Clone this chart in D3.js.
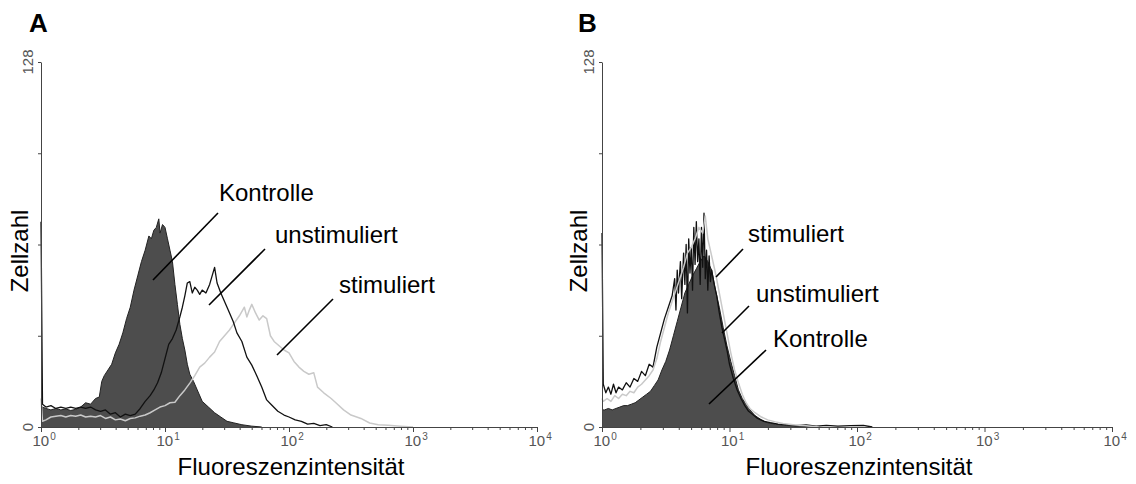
<!DOCTYPE html>
<html>
<head>
<meta charset="utf-8">
<script src="https://cdn.jsdelivr.net/npm/d3@7"></script>
<style>
  html, body { margin: 0; padding: 0; background: #fff; }
  svg { display: block; font-family: "Liberation Sans", Arial, sans-serif; }
</style>
</head>
<body>
<svg id="chart" width="1136" height="484"></svg>
<script>
// Flow cytometry histograms: x = decade exponent of fluorescence intensity, y = cell count

const decades = [0, 1, 2, 3, 4];
const countTicks = [0, 32, 64, 96, 128];
const countLabels = [0, 128];

// Panel A
const aKontrolle = [
  [0.000, 6.5], [0.012, 7], [0.04, 6.5], [0.08, 6], [0.12, 6.5], [0.16, 6], [0.20, 6.3],
  [0.24, 5.8], [0.28, 6.2], [0.32, 7], [0.36, 8.5], [0.40, 8], [0.44, 10], [0.47, 10.5],
  [0.49, 16], [0.51, 18], [0.54, 20], [0.57, 22], [0.60, 26], [0.63, 29], [0.66, 33],
  [0.69, 38], [0.72, 42], [0.75, 48], [0.78, 53], [0.81, 58], [0.84, 62], [0.87, 67],
  [0.89, 66], [0.91, 69], [0.93, 70], [0.95, 73], [0.96, 68], [0.98, 71], [1.00, 70],
  [1.02, 66], [1.04, 62], [1.06, 58], [1.08, 50], [1.10, 43], [1.12, 36], [1.14, 31],
  [1.16, 27], [1.18, 22], [1.20, 18.5], [1.23, 16], [1.26, 13], [1.30, 9], [1.35, 7],
  [1.40, 5], [1.45, 3.5], [1.50, 2], [1.55, 1.5], [1.62, 0.8], [1.70, 0.3], [1.78, 0]
];
const aUnstimuliert = [
  [0.000, 72], [0.012, 8], [0.04, 7], [0.08, 7.5], [0.12, 6.5], [0.16, 7], [0.20, 6.5],
  [0.24, 7], [0.28, 6.5], [0.32, 7], [0.36, 6.5], [0.40, 7], [0.44, 6], [0.48, 5.5],
  [0.52, 6], [0.56, 4.5], [0.60, 5], [0.64, 3.5], [0.68, 4.5], [0.72, 4], [0.76, 4.5],
  [0.80, 6.5], [0.84, 9], [0.88, 11], [0.91, 13], [0.94, 15.5], [0.97, 19], [1.00, 24],
  [1.03, 29], [1.06, 31], [1.09, 34], [1.12, 38.6], [1.14, 42], [1.16, 46], [1.18, 50.5],
  [1.20, 51], [1.22, 47], [1.24, 49], [1.26, 48], [1.28, 46.5], [1.30, 48], [1.33, 47],
  [1.36, 50], [1.38, 53], [1.40, 56], [1.42, 50.5], [1.45, 47], [1.48, 44], [1.51, 41],
  [1.55, 37], [1.58, 33], [1.62, 30], [1.66, 24.5], [1.70, 21.7], [1.74, 18], [1.78, 14],
  [1.82, 9.5], [1.86, 7.7], [1.91, 5.5], [1.96, 4.2], [2.00, 3.5], [2.05, 2.5], [2.10, 2],
  [2.15, 1], [2.20, 1.3], [2.25, 0.5], [2.30, 0.8], [2.35, 0]
];
const aStimuliert = [
  [0.000, 10], [0.012, 2], [0.04, 2.5], [0.08, 3.5], [0.12, 3.8], [0.16, 4], [0.20, 3.5],
  [0.24, 4], [0.28, 3.8], [0.32, 4.2], [0.36, 3.5], [0.40, 3.8], [0.44, 3.5], [0.48, 4],
  [0.52, 3], [0.56, 3.5], [0.60, 2.5], [0.64, 2.8], [0.68, 2.2], [0.72, 3], [0.76, 3.2],
  [0.80, 3.8], [0.84, 4.2], [0.88, 5], [0.92, 6], [0.96, 7], [1.00, 7.5], [1.04, 8.5],
  [1.08, 8.7], [1.12, 11], [1.16, 13], [1.20, 15.4], [1.24, 18], [1.28, 21], [1.32, 22.4],
  [1.36, 24.5], [1.40, 26.3], [1.44, 30], [1.48, 32], [1.52, 34], [1.56, 36.5], [1.60, 39],
  [1.64, 42], [1.66, 38.6], [1.68, 41], [1.70, 43], [1.73, 40], [1.76, 37.5], [1.79, 39],
  [1.82, 38], [1.85, 32], [1.88, 30], [1.92, 28.5], [1.96, 27], [2.00, 26], [2.04, 23],
  [2.08, 21], [2.12, 19.5], [2.16, 18.5], [2.20, 19], [2.23, 14], [2.28, 12], [2.34, 10],
  [2.38, 8.4], [2.44, 6], [2.50, 4.2], [2.58, 3], [2.65, 1.4], [2.72, 0.8], [2.80, 0.6],
  [2.90, 0.3], [3.00, 0]
];

// Panel B
const bKontrolle = [
  [0.000, 6], [0.02, 6], [0.05, 6.5], [0.08, 6], [0.11, 6.5], [0.14, 7], [0.17, 7.5],
  [0.20, 7.5], [0.23, 8], [0.26, 8.5], [0.29, 9.5], [0.32, 10.5], [0.35, 11.5], [0.38, 12.5],
  [0.41, 14.5], [0.44, 16.5], [0.47, 20], [0.50, 23], [0.53, 27], [0.56, 32], [0.59, 37],
  [0.62, 42], [0.65, 47], [0.68, 50], [0.71, 53], [0.74, 55.5], [0.77, 58], [0.80, 60],
  [0.83, 58], [0.86, 55], [0.89, 48], [0.92, 42], [0.95, 35], [0.98, 28.5], [1.01, 23],
  [1.04, 18], [1.07, 13], [1.10, 10], [1.13, 8], [1.16, 6], [1.20, 4], [1.25, 2.5],
  [1.30, 1.5], [1.36, 1], [1.45, 0.5], [1.55, 0.3], [1.65, 0]
];
const bUnstimuliert = [
  [0.000, 68], [0.01, 15], [0.03, 12], [0.05, 14], [0.07, 11.5], [0.09, 15], [0.11, 12],
  [0.13, 14], [0.16, 13], [0.19, 15.5], [0.22, 14], [0.25, 17], [0.28, 16], [0.31, 19.5],
  [0.34, 18], [0.37, 22], [0.40, 21], [0.43, 28], [0.46, 33], [0.49, 38], [0.52, 42],
  [0.55, 46], [0.57, 52], [0.58, 41], [0.59, 55], [0.60, 47], [0.615, 58], [0.625, 45],
  [0.64, 61], [0.65, 50], [0.66, 64], [0.67, 40], [0.68, 66], [0.69, 54], [0.70, 63],
  [0.71, 48], [0.72, 70], [0.73, 57], [0.74, 72], [0.75, 58], [0.76, 66], [0.77, 50],
  [0.78, 70], [0.79, 56], [0.80, 75], [0.81, 52], [0.82, 62], [0.83, 48], [0.84, 60],
  [0.85, 51], [0.86, 55], [0.88, 50], [0.90, 46], [0.92, 40], [0.94, 35], [0.96, 31],
  [0.98, 27], [1.00, 22], [1.03, 17], [1.06, 13], [1.09, 10], [1.12, 7.5], [1.15, 5.5],
  [1.18, 4.5], [1.22, 3], [1.27, 2], [1.32, 1.5], [1.38, 1], [1.45, 0.8], [1.52, 0.5],
  [1.60, 0.7], [1.68, 0.3], [1.76, 0.6], [1.85, 0.3], [1.95, 0.5], [2.05, 0.6], [2.12, 0]
];
const bStimuliert = [
  [0.000, 10], [0.01, 9], [0.04, 10], [0.07, 9], [0.10, 11], [0.13, 10], [0.16, 11.5],
  [0.19, 11], [0.22, 12.5], [0.25, 12], [0.28, 14], [0.31, 15], [0.34, 16.5], [0.37, 18],
  [0.40, 20], [0.43, 24], [0.46, 30], [0.49, 35], [0.52, 40], [0.55, 44], [0.58, 48],
  [0.61, 52], [0.64, 56], [0.67, 61], [0.70, 63], [0.73, 66], [0.76, 70], [0.79, 68],
  [0.81, 74], [0.83, 66], [0.86, 60], [0.89, 54], [0.92, 47], [0.95, 40], [0.98, 33],
  [1.01, 26], [1.04, 20], [1.07, 15.5], [1.10, 11.5], [1.13, 8.5], [1.16, 6.5], [1.20, 5],
  [1.25, 3.5], [1.30, 2.5], [1.36, 1.8], [1.42, 1.2], [1.50, 0.8], [1.60, 0.4], [1.70, 0]
];

const panels = [
  {
    letter: "A", letterX: 29, left: 41, right: 537,
    kontrolle: aKontrolle, unstim: aUnstimuliert, stim: aStimuliert,
    yTitleX: 28,
    notes: [
      { text: "Kontrolle", tx: 219, ty: 201, line: [218, 213, 153, 280] },
      { text: "unstimuliert", tx: 275, ty: 243, line: [265, 249, 209, 305] },
      { text: "stimuliert", tx: 339, ty: 293, line: [333, 299, 277, 355] }
    ],
    stimOnTop: false
  },
  {
    letter: "B", letterX: 578, left: 602, right: 1112,
    kontrolle: bKontrolle, unstim: bUnstimuliert, stim: bStimuliert,
    yTitleX: 587,
    notes: [
      { text: "stimuliert", tx: 748, ty: 242, line: [743, 249, 716, 277] },
      { text: "unstimuliert", tx: 756, ty: 302, line: [749, 306, 722, 333] },
      { text: "Kontrolle", tx: 773, ty: 347, line: [766, 350, 709, 404] }
    ],
    stimOnTop: true
  }
];

const svg = d3.select("#chart");
const plotTop = 62, plotBottom = 427;
const axisColor = "#444";
const tickTextColor = "#555";

panels.forEach(p => {
  const x = d3.scaleLog().domain([1, 10000]).range([p.left, p.right]);
  const y = d3.scaleLinear().domain([0, 128]).range([plotBottom, plotTop]);
  const g = svg.append("g");
  const px = d => x(Math.pow(10, d[0]));

  const area = d3.area().x(px).y0(y(0)).y1(d => y(d[1]));
  const line = d3.line().x(px).y(d => y(d[1]));

  // filled control histogram
  g.append("path").datum(p.kontrolle)
    .attr("d", area).attr("fill", "#4d4d4d");
  g.append("path").datum(p.kontrolle)
    .attr("d", line).attr("fill", "none").attr("stroke", "#222").attr("stroke-width", 1);

  const drawStim = () => g.append("path").datum(p.stim)
    .attr("d", line).attr("fill", "none")
    .attr("stroke", "#c9c9c9").attr("stroke-width", 1.5).attr("stroke-linejoin", "round");
  const drawUnstim = () => g.append("path").datum(p.unstim)
    .attr("d", line).attr("fill", "none")
    .attr("stroke", "#111").attr("stroke-width", 1.3).attr("stroke-linejoin", "round");

  if (p.stimOnTop) { drawUnstim(); drawStim(); } else { drawStim(); drawUnstim(); }

  // x axis: minor ticks, then decade ticks
  const minor = [];
  for (let e = 0; e < 4; e++) for (let m = 2; m <= 9; m++) minor.push(m * Math.pow(10, e));
  const xMinor = g.append("g").attr("transform", `translate(0,${plotBottom})`)
    .call(d3.axisBottom(x).tickValues(minor).tickSize(3).tickFormat(""));
  const xMajor = g.append("g").attr("transform", `translate(0,${plotBottom})`)
    .call(d3.axisBottom(x).tickValues(decades.map(e => Math.pow(10, e))).tickSize(5).tickSizeOuter(0).tickFormat(""));
  xMinor.select(".domain").remove();
  [xMinor, xMajor].forEach(a => {
    a.selectAll("line").attr("stroke", axisColor);
    a.select(".domain").attr("stroke", axisColor);
  });

  decades.forEach(e => {
    const t = g.append("text")
      .attr("x", x(Math.pow(10, e)) - 8.5).attr("y", 446)
      .attr("font-size", 15).attr("fill", tickTextColor);
    t.append("tspan").text("10");
    t.append("tspan").attr("font-size", 10).attr("dy", -6).attr("dx", 1).text(e);
  });

  // y axis
  const yAx = g.append("g").attr("transform", `translate(${p.left},0)`)
    .call(d3.axisLeft(y).tickValues(countTicks).tickSize(3).tickSizeOuter(0).tickFormat(""));
  yAx.selectAll("line").attr("stroke", axisColor);
  yAx.select(".domain").attr("stroke", axisColor);

  countLabels.forEach(v => {
    g.append("text")
      .attr("transform", `translate(${p.left - 8},${y(v)}) rotate(-90)`)
      .attr("text-anchor", "middle").attr("font-size", 15).attr("fill", tickTextColor)
      .text(v);
  });

  // titles
  g.append("text").attr("x", (p.left + p.right) / 2 + 2).attr("y", 475)
    .attr("text-anchor", "middle").attr("font-size", 24).attr("fill", "#000")
    .text("Fluoreszenzintensität");
  g.append("text")
    .attr("transform", `translate(${p.yTitleX},251) rotate(-90)`)
    .attr("text-anchor", "middle").attr("font-size", 24).attr("fill", "#000")
    .text("Zellzahl");
  g.append("text").attr("x", p.letterX).attr("y", 32)
    .attr("font-size", 26).attr("font-weight", "bold").attr("fill", "#000")
    .text(p.letter);

  // series annotations with leader lines
  p.notes.forEach(n => {
    g.append("line")
      .attr("x1", n.line[0]).attr("y1", n.line[1]).attr("x2", n.line[2]).attr("y2", n.line[3])
      .attr("stroke", "#000").attr("stroke-width", 1.6);
    g.append("text").attr("x", n.tx).attr("y", n.ty)
      .attr("font-size", 24).attr("fill", "#000").text(n.text);
  });
});
</script>
</body>
</html>
